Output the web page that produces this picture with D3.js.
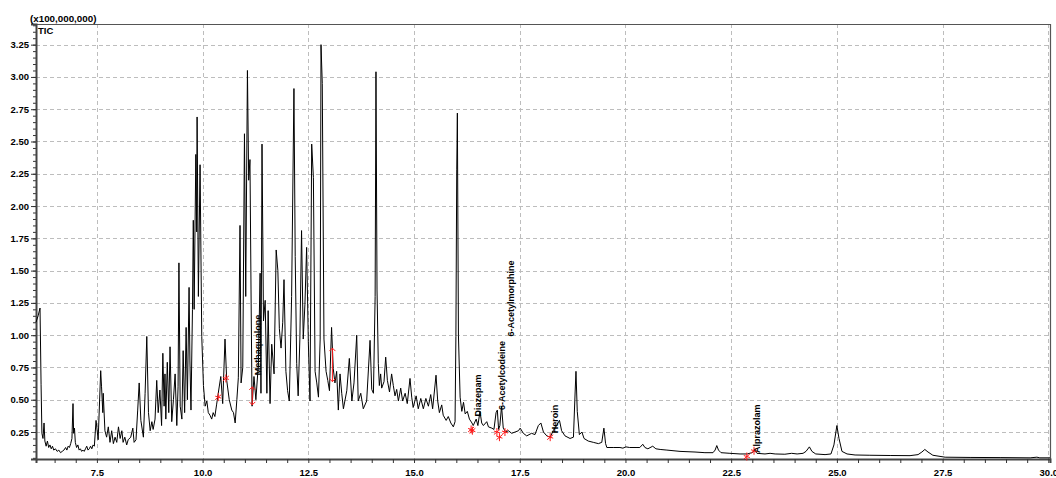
<!DOCTYPE html>
<html>
<head>
<meta charset="utf-8">
<script src="https://cdn.jsdelivr.net/npm/d3@7"></script>
<style>
  body { margin: 0; background: #fff; }
  svg text { font-family: "Liberation Sans", Arial, sans-serif; font-weight: bold; fill: #000; }
</style>
</head>
<body>
<div id="chart"></div>
<script>
// TIC chromatogram, retention time (min) vs intensity (x100,000,000)

// [retention time, intensity]
var ticPoints = [
  [6.06,1.10],[6.11,1.15],[6.155,1.21],[6.18,0.62],[6.20,0.24],[6.225,0.20],[6.25,0.32],[6.27,0.18],[6.30,0.14],[6.33,0.18],
  [6.36,0.13],[6.39,0.15],[6.42,0.12],[6.45,0.14],[6.48,0.11],[6.52,0.12],[6.56,0.10],[6.60,0.11],[6.64,0.09],[6.68,0.10],
  [6.72,0.11],[6.76,0.13],[6.79,0.11],[6.82,0.14],[6.85,0.13],[6.88,0.16],[6.91,0.20],[6.935,0.47],[6.95,0.24],[6.97,0.28],
  [6.99,0.17],[7.02,0.13],[7.05,0.15],[7.08,0.11],[7.11,0.12],[7.14,0.10],[7.17,0.11],[7.20,0.10],[7.23,0.12],[7.26,0.14],
  [7.29,0.11],[7.32,0.12],[7.35,0.14],[7.38,0.12],[7.41,0.15],[7.44,0.14],[7.48,0.34],[7.53,0.19],[7.59,0.725],[7.61,0.60],
  [7.64,0.40],[7.65,0.55],[7.69,0.26],[7.73,0.21],[7.77,0.29],[7.81,0.17],[7.85,0.26],[7.89,0.16],[7.93,0.21],[7.97,0.17],
  [8.01,0.29],[8.05,0.20],[8.09,0.26],[8.12,0.17],[8.16,0.21],[8.205,0.15],[8.24,0.19],[8.30,0.21],[8.35,0.28],[8.38,0.17],
  [8.425,0.19],[8.465,0.42],[8.50,0.63],[8.54,0.34],[8.60,0.21],[8.64,0.55],[8.68,0.99],[8.72,0.40],[8.76,0.26],[8.80,0.33],
  [8.83,0.27],[8.875,0.35],[8.915,0.65],[8.95,0.40],[8.99,0.575],[9.03,0.30],[9.06,0.86],[9.09,0.45],[9.11,0.70],[9.13,0.35],
  [9.165,0.79],[9.20,0.40],[9.23,0.91],[9.27,0.33],[9.31,0.50],[9.35,0.70],[9.39,0.30],[9.42,0.60],[9.44,1.56],[9.47,0.45],
  [9.51,0.35],[9.54,0.88],[9.575,0.40],[9.61,1.06],[9.64,0.50],[9.68,1.37],[9.70,0.80],[9.725,0.42],[9.76,1.20],[9.78,1.89],
  [9.80,1.20],[9.84,2.40],[9.86,1.80],[9.87,2.69],[9.90,1.30],[9.94,2.32],[9.98,0.99],[10.02,0.61],[10.06,0.45],[10.10,0.49],
  [10.135,0.40],[10.175,0.38],[10.215,0.35],[10.25,0.40],[10.29,0.37],[10.33,0.46],[10.37,0.55],[10.43,0.68],[10.475,0.47],[10.53,0.97],
  [10.57,0.65],[10.63,0.50],[10.69,0.42],[10.73,0.40],[10.77,0.32],[10.81,0.50],[10.845,0.67],[10.885,1.85],[10.91,0.63],[10.95,0.75],
  [10.99,2.56],[11.02,1.30],[11.06,3.05],[11.09,2.20],[11.12,2.36],[11.145,1.35],[11.17,0.45],[11.215,0.68],[11.26,0.50],[11.32,0.78],
  [11.36,1.48],[11.38,0.55],[11.405,2.48],[11.44,1.11],[11.48,1.27],[11.52,0.55],[11.55,1.19],[11.595,0.47],[11.635,0.93],[11.69,0.70],
  [11.74,1.66],[11.78,1.50],[11.815,1.05],[11.855,0.90],[11.895,1.10],[11.925,1.43],[11.97,0.72],[12.01,0.57],[12.05,0.49],[12.105,1.30],
  [12.16,2.91],[12.19,1.61],[12.225,0.78],[12.26,0.53],[12.30,0.97],[12.34,1.81],[12.38,0.97],[12.42,1.24],[12.46,1.68],[12.50,0.95],
  [12.54,0.49],[12.58,2.48],[12.62,2.22],[12.66,0.72],[12.70,0.63],[12.74,0.52],[12.78,0.97],[12.80,3.25],[12.83,2.95],[12.87,0.97],
  [12.92,0.72],[12.96,0.65],[13.00,0.57],[13.05,1.06],[13.09,0.74],[13.13,0.63],[13.17,0.72],[13.21,0.42],[13.25,0.70],[13.29,0.55],
  [13.33,0.43],[13.41,0.57],[13.47,0.82],[13.53,0.49],[13.58,0.63],[13.645,1.00],[13.68,0.49],[13.74,0.55],[13.80,0.43],[13.88,0.49],
  [13.96,0.96],[14.00,0.58],[14.04,0.55],[14.08,1.30],[14.10,3.04],[14.125,1.35],[14.155,0.78],[14.18,0.61],[14.21,0.70],[14.235,0.59],
  [14.29,0.64],[14.33,0.83],[14.37,0.65],[14.42,0.56],[14.47,0.70],[14.51,0.61],[14.55,0.53],[14.59,0.58],[14.63,0.49],[14.685,0.59],
  [14.73,0.49],[14.79,0.55],[14.84,0.47],[14.905,0.665],[14.945,0.52],[14.98,0.44],[15.05,0.53],[15.10,0.43],[15.16,0.51],[15.22,0.43],
  [15.28,0.51],[15.34,0.45],[15.395,0.54],[15.44,0.43],[15.52,0.69],[15.56,0.49],[15.60,0.40],[15.655,0.46],[15.69,0.38],[15.76,0.34],
  [15.81,0.37],[15.87,0.32],[15.93,0.29],[15.97,0.33],[15.99,0.99],[16.01,2.28],[16.025,2.72],[16.05,1.00],[16.09,0.52],[16.13,0.41],
  [16.17,0.48],[16.21,0.39],[16.26,0.41],[16.31,0.35],[16.37,0.32],[16.40,0.30],[16.47,0.35],[16.51,0.30],[16.56,0.41],[16.60,0.32],
  [16.64,0.30],[16.72,0.33],[16.76,0.29],[16.84,0.28],[16.89,0.27],[16.94,0.40],[16.97,0.42],[17.00,0.27],[17.03,0.30],[17.07,0.45],
  [17.11,0.28],[17.17,0.25],[17.23,0.26],[17.31,0.24],[17.39,0.25],[17.47,0.26],[17.51,0.28],[17.585,0.24],[17.665,0.22],[17.78,0.24],
  [17.86,0.23],[17.94,0.30],[18.00,0.32],[18.06,0.25],[18.14,0.22],[18.22,0.21],[18.29,0.26],[18.37,0.30],[18.44,0.34],[18.49,0.26],
  [18.57,0.22],[18.69,0.20],[18.77,0.21],[18.81,0.56],[18.83,0.72],[18.86,0.41],[18.91,0.23],[18.97,0.25],[19.02,0.20],[19.12,0.18],
  [19.24,0.17],[19.36,0.16],[19.44,0.17],[19.49,0.28],[19.53,0.16],[19.56,0.13],[19.71,0.13],[19.87,0.13],[19.94,0.125],[20.01,0.135],
  [20.10,0.13],[20.25,0.13],[20.34,0.13],[20.41,0.155],[20.46,0.13],[20.53,0.12],[20.645,0.14],[20.72,0.12],[20.82,0.115],[20.98,0.11],
  [21.29,0.10],[21.645,0.095],[21.88,0.09],[22.07,0.09],[22.12,0.11],[22.16,0.145],[22.20,0.11],[22.26,0.09],[22.47,0.085],[22.71,0.08],
  [22.88,0.08],[22.99,0.09],[23.06,0.105],[23.11,0.085],[23.30,0.08],[23.42,0.085],[23.54,0.08],[23.77,0.078],[23.93,0.085],[24.06,0.08],
  [24.20,0.085],[24.27,0.10],[24.35,0.135],[24.41,0.10],[24.50,0.08],[24.72,0.075],[24.86,0.08],[24.93,0.15],[25.00,0.30],[25.05,0.20],
  [25.12,0.10],[25.24,0.08],[25.43,0.072],[25.78,0.07],[26.26,0.068],[26.73,0.067],[26.92,0.075],[27.01,0.095],[27.08,0.115],[27.155,0.095],
  [27.27,0.07],[27.56,0.055],[28.15,0.053],[28.86,0.052],[29.57,0.05],[29.73,0.055],[29.80,0.05],[30.04,0.05]
]

// identified compounds: name, retention time, intensity where the label starts
var compoundNames = ['Methaqualone', 'Diazepam', '6-Acetylcodeine', '6-Acetylmorphine', 'Heroin', 'Alprazolam']
var compoundTimes = [11.31, 16.51, 17.07, 17.27, 18.33, 23.11]
var compoundLabelBase = [0.69, 0.37, 0.42, 0.99, 0.24, 0.087]

// red peak start/end marks
var markerTimes = [10.37, 10.55, 16.35, 16.38, 16.96, 17.02, 17.15, 18.22, 22.87, 23.04]
var markerValues = [0.52, 0.665, 0.27, 0.26, 0.25, 0.21, 0.25, 0.21, 0.06, 0.105]

// red vertical drop lines: time, top, bottom
var dropTimes = [11.175, 13.07]
var dropTop = [0.60, 0.90]
var dropBottom = [0.46, 0.64]

// axes
var xDomain = [6.06, 30.04]
var yDomain = [0.041, 3.41]
var xLabelTicks = [7.5, 10.0, 12.5, 15.0, 17.5, 20.0, 22.5, 25.0, 27.5, 30.0]
var yLabelTicks = [0.25, 0.50, 0.75, 1.00, 1.25, 1.50, 1.75, 2.00, 2.25, 2.50, 2.75, 3.00, 3.25]
var yUnitLabel = '(x100,000,000)'
var traceName = 'TIC'

var svg_width = 1056
var svg_height = 478
var plotLeft = 36, plotRight = 1050, plotTop = 24, plotBottom = 459

var svg = d3.select('#chart')
  .append('svg')
    .attr('width', svg_width)
    .attr('height', svg_height)

var x = d3.scaleLinear().domain(xDomain).range([plotLeft, plotRight])
var y = d3.scaleLinear().domain(yDomain).range([plotBottom, plotTop])

// dashed grid
svg.append('g')
  .selectAll('line')
  .data(yLabelTicks)
  .enter()
  .append('line')
    .attr('x1', plotLeft).attr('x2', plotRight)
    .attr('y1', function(d) { return Math.round(y(d)) + 0.5 })
    .attr('y2', function(d) { return Math.round(y(d)) + 0.5 })
    .attr('stroke', '#bdbdbd')
    .attr('stroke-dasharray', '4,3')

svg.append('g')
  .selectAll('line')
  .data(xLabelTicks)
  .enter()
  .append('line')
    .attr('y1', plotTop).attr('y2', plotBottom)
    .attr('x1', function(d) { return Math.round(x(d)) + 0.5 })
    .attr('x2', function(d) { return Math.round(x(d)) + 0.5 })
    .attr('stroke', '#bdbdbd')
    .attr('stroke-dasharray', '4,3')

// frame (top and right)
svg.append('path')
  .attr('d', 'M' + plotLeft + ',' + (plotTop + 0.5) + 'H' + (plotRight + 0.5) + 'V' + plotBottom)
  .attr('fill', 'none')
  .attr('stroke', '#555')
  .attr('stroke-width', 1.2)

// x axis: small ticks every 0.5 min, labels every 2.5
var xAxis = d3.axisBottom(x)
  .tickValues(d3.range(6.5, 30.01, 0.5))
  .tickSize(4)
  .tickFormat(function(d) { return xLabelTicks.indexOf(d) >= 0 ? d3.format('.1f')(d) : '' })

var gx = svg.append('g')
  .attr('transform', 'translate(0,' + plotBottom + ')')
  .call(xAxis)
gx.select('.domain').attr('stroke', '#444').attr('stroke-width', 2)
gx.selectAll('.tick line').attr('stroke', '#333')
gx.selectAll('.tick text')
  .attr('dy', '1.05em')
  .style('font-size', '9.5px')
  .style('font-family', '"Liberation Sans", Arial, sans-serif')
  .style('font-weight', 'bold')

// y axis: minor ticks every 0.05
var minorY = d3.range(0.05, 3.41, 0.05).map(function(d) { return Math.round(d * 100) / 100 })
var gyMinor = svg.append('g')
  .attr('transform', 'translate(' + plotLeft + ',0)')
  .call(d3.axisLeft(y).tickValues(minorY).tickSize(3).tickFormat(''))
gyMinor.select('.domain').remove()
gyMinor.selectAll('.tick line').attr('stroke', '#333')

var gy = svg.append('g')
  .attr('transform', 'translate(' + plotLeft + ',0)')
  .call(d3.axisLeft(y).tickValues(yLabelTicks).tickSize(5).tickPadding(2).tickFormat(d3.format('.2f')))
gy.select('.domain').attr('stroke', '#444').attr('stroke-width', 2)
gy.selectAll('.tick line').attr('stroke', '#333')
gy.selectAll('.tick text')
  .style('font-size', '9.5px')
  .style('font-family', '"Liberation Sans", Arial, sans-serif')
  .style('font-weight', 'bold')

svg.append('text')
  .attr('x', 30).attr('y', 22)
  .style('font-size', '9.8px')
  .text(yUnitLabel)

svg.append('text')
  .attr('x', 38).attr('y', 34)
  .style('font-size', '9.5px')
  .text(traceName)

// the trace
var line = d3.line()
  .x(function(d) { return x(d[0]) })
  .y(function(d) { return y(d[1]) })

svg.append('path')
  .datum(ticPoints)
  .attr('d', line)
  .attr('fill', 'none')
  .attr('stroke', '#000')
  .attr('stroke-width', 1)
  .attr('stroke-linejoin', 'miter')

// red integration marks
var marks = svg.append('g').attr('stroke', '#ff1a1a').attr('stroke-width', 1).attr('fill', 'none')

markerTimes.forEach(function(t, i) {
  var cx = x(t), cy = y(markerValues[i])
  marks.append('path')
    .attr('d', 'M' + cx + ',' + (cy - 4) + 'V' + (cy + 4) +
               'M' + (cx - 3) + ',' + (cy + 2.5) + 'L' + (cx + 3) + ',' + (cy - 2.5) +
               'M' + (cx - 3) + ',' + (cy - 1) + 'L' + (cx + 3) + ',' + (cy + 1))
})

dropTimes.forEach(function(t, i) {
  var cx = x(t), y1 = y(dropTop[i]), y2 = y(dropBottom[i])
  marks.append('path')
    .attr('d', 'M' + cx + ',' + y1 + 'V' + y2 +
               'M' + (cx - 3) + ',' + (y1 + 3) + 'L' + cx + ',' + y1 + 'L' + (cx + 3) + ',' + (y1 + 3) +
               'M' + (cx - 3) + ',' + (y2 - 3) + 'L' + cx + ',' + y2 + 'L' + (cx + 3) + ',' + (y2 - 3))
})

// compound names, written upward
svg.append('g')
  .selectAll('text')
  .data(compoundNames)
  .enter()
  .append('text')
    .attr('transform', function(d, i) {
      return 'translate(' + (x(compoundTimes[i]) + 3.5) + ',' + y(compoundLabelBase[i]) + ') rotate(-90)'
    })
    .style('font-size', '9px')
    .text(function(d) { return d })
</script>
</body>
</html>
